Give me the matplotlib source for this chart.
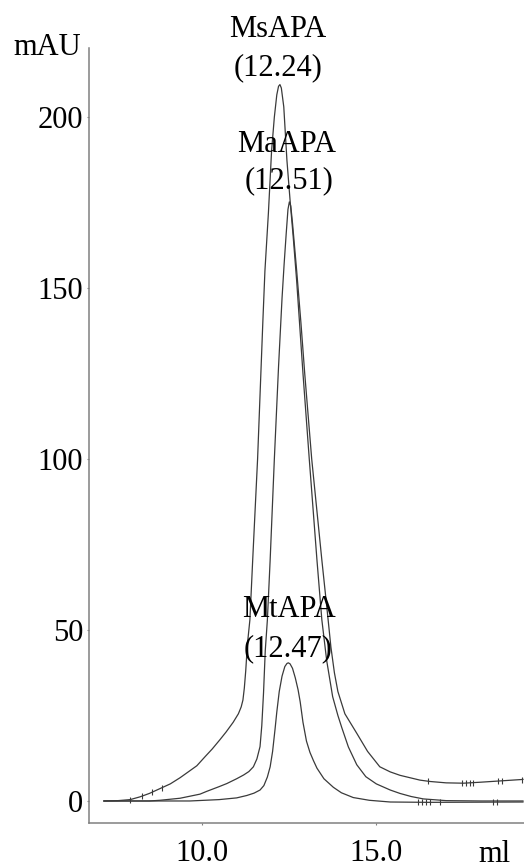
#coding=utf-8
import numpy as np
import matplotlib
matplotlib.use('Agg')
import matplotlib.pyplot as plt

# 洗脱体积 ml / 吸光度 mAU ，从图上读的
ms_x=[7.2,7.6,7.95,8.23,8.5,8.8,9.1,9.38,9.6,9.86,10.1,10.3,10.52,10.7,10.9,11.05,11.13,11.18,11.22,11.26,
	11.31,11.38,11.46,11.6,11.75,11.81,11.91,12.0,12.08,12.15,12.2,12.24,
	12.28,12.35,12.44,12.53,12.62,12.72,12.9,13.08,13.3,13.44,13.58,13.75,13.9,14.01,14.2,14.44,14.7,15.0,
	15.4,15.68,16.0,16.35,17.0,18.0,19.2]
ms_y=[0,0.1,0.4,1.2,2.2,3.6,5.0,6.8,8.4,10.3,13,15.2,17.9,20.2,23,25.5,27.5,29.5,33,38,
	46,53,70.5,100,140,155,172,190,200,206.5,209,209.5,
	208.5,203,187.4,175.7,165,152,125,100,70.5,53,41,30.5,25.0,21.5,15.8,10.6,7.1,5.0,
	3.2,2.2,1.3,0.6,0.1,0,0]

ma_x=[7.2,8.5,8.8,9.38,9.95,10.14,10.5,10.72,11.0,11.2,11.35,11.48,11.58,11.67,11.72,11.77,11.82,11.88,11.96,
	12.08,12.2,12.3,12.36,12.42,12.47,12.51,
	12.55,12.6,12.72,12.84,12.95,13.15,13.44,13.6,13.7,13.8,13.9,14.1,14.44,14.75,15.1,15.4,15.68,16.25,16.54,
	17.0,17.5,18.0,18.6,19.2]
ma_y=[0,0,0.2,0.8,2.0,2.8,4.2,5.1,6.5,7.6,8.6,10,12.3,15.9,22,31.6,44,52.9,70.5,
	100,127,147,157,166,173,175.2,
	174,169,155,140,125,100,70.5,55,45,37.5,32,25.5,19.8,14.5,10,8.5,7.5,6.1,5.7,
	5.3,5.2,5.5,5.9,6.3]

mt_x=[7.2,9.66,10.5,11.0,11.29,11.5,11.67,11.78,11.88,11.96,12.03,12.1,12.15,12.22,12.3,12.38,12.44,12.48,
	12.53,12.6,12.68,12.76,12.82,12.9,13.0,13.1,13.2,13.3,13.5,13.77,14.0,14.34,14.8,15.4,16.5,19.2]
mt_y=[0,0,0.4,0.9,1.6,2.3,3.2,4.5,7,10,14.5,21,26,32,36.5,39.3,40.2,40.4,
	40.1,38.8,36,32.5,29,23,17.5,14.2,11.8,9.6,6.5,4.0,2.4,1.0,0.2,-0.3,-0.4,-0.3]

# 收集管标记 (小竖线)
ms_marks=[7.95,8.28,8.57,8.85]
ma_marks=[16.48,17.46,17.57,17.69,17.78,18.49,18.6,19.17]
mt_marks=[16.2,16.31,16.43,16.54,16.83,18.35,18.47]

names=['MsAPA','MaAPA','MtAPA']
peaks=['(12.24)','(12.51)','(12.47)']

plt.rc('font',family=['Liberation Serif','DejaVu Serif'],size=22)
fig=plt.figure(figsize=(5.24,8.68),dpi=100)
ax=fig.add_axes([0.1704,0.0522,0.8296,0.8925])

c='#3a3a3a'
for x,y,mk in [(ms_x,ms_y,ms_marks),(ma_x,ma_y,ma_marks),(mt_x,mt_y,mt_marks)]:
	ax.plot(x,y,'-',color=c,lw=0.9)
	ax.plot(mk,np.interp(mk,x,y),'|',color=c,markersize=5,mew=0.8)

ax.set_xlim(6.78,19.23)
ax.set_ylim(-6.35,220.2)
ax.set_xticks([10,15])
ax.set_xticklabels(['10.0','15.0'])
ax.set_yticks([0,50,100,150,200])
for s in ['top','right']:
	ax.spines[s].set_visible(False)
for s in ['left','bottom']:
	ax.spines[s].set_color('#808080')
	ax.spines[s].set_linewidth(1.1)
ax.tick_params(axis='x',length=1.5,width=0.8,color='#808080',pad=10.5)
ax.tick_params(axis='y',length=1.5,width=0.8,color='#808080',pad=3)

# 峰标注: 名字 + 洗脱体积
lab=[(12.19,223.4,12.19,212.3),(12.44,189.8,12.5,179.1),(12.5,53.9,12.48,42.2)]
for (x1,y1,x2,y2),n,p in zip(lab,names,peaks):
	ax.text(x1,y1,n,ha='center',va='baseline',clip_on=False)
	ax.text(x2,y2,p,ha='center',va='baseline',clip_on=False)

fig.text(81/524,1-47.5/868,'mAU',ha='right',va='center')
fig.text(494/524,1-862/868,'ml',ha='center',va='baseline')

fig.savefig('out.png',dpi=100)
